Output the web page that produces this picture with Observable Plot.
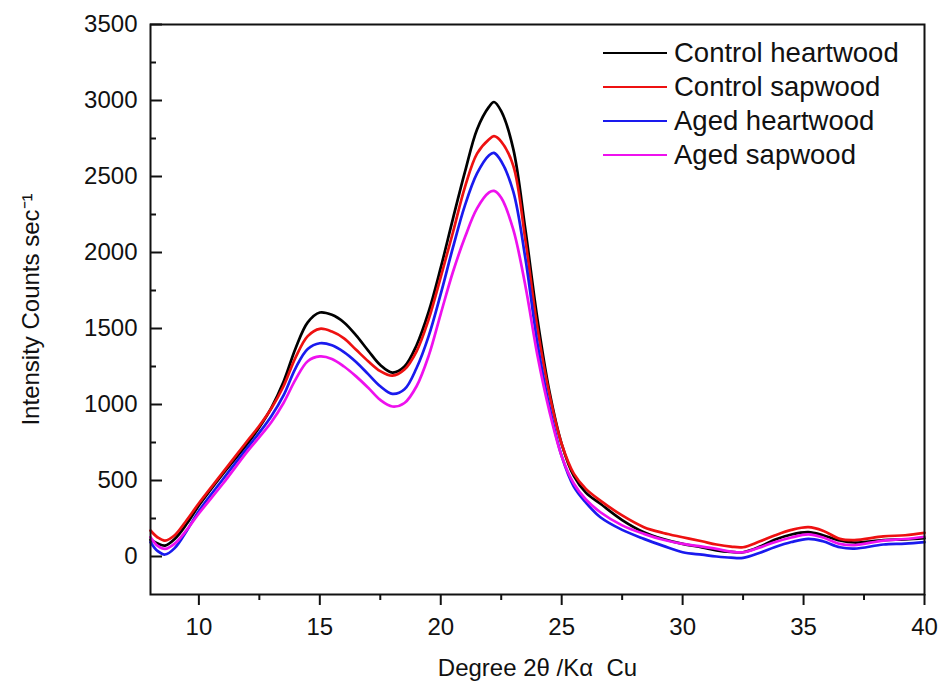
<!DOCTYPE html>
<html>
<head>
<meta charset="utf-8">
<script src="https://cdn.jsdelivr.net/npm/d3@7"></script>
<script src="https://cdn.jsdelivr.net/npm/@observablehq/plot@0.6"></script>
<style>
  body { margin: 0; background: #fff; font-family: "Liberation Sans", Arial, sans-serif; }
  #wrap { position: relative; width: 941px; height: 681px; }
  #legend { position: absolute; left: 603px; top: 36px; }
  .row { display: flex; align-items: center; height: 34px; }
  .sw { width: 64px; height: 0; border-top: 2.5px solid; margin-right: 7px; }
  .lab { font-size: 27.5px; color: #111; line-height: 34px; white-space: nowrap; }
</style>
</head>
<body>
<div id="wrap"><div id="legend"></div></div>
<script>
// ---- data ----
const twoTheta = [8, 8.3, 8.6, 9, 9.5, 10, 11, 12, 12.5, 13, 13.5, 14, 14.5, 15, 15.5, 16, 16.5, 17, 17.5, 18, 18.5, 19, 19.5, 20, 20.5, 21, 21.5, 22, 22.2, 22.5, 23, 23.5, 24, 24.5, 25, 25.5, 26, 26.6, 27.5, 28.4, 29.2, 30, 30.8, 31.4, 32, 32.5, 33.2, 33.8, 34.5, 35.2, 35.8, 36.5, 37.1, 38.3, 39.2, 40];

const controlHeartwood = [110, 85, 72, 115, 215, 335, 545, 740, 850, 980, 1150, 1370, 1540, 1605, 1590, 1540, 1455, 1355, 1260, 1210, 1250, 1390, 1610, 1900, 2220, 2530, 2810, 2960, 2990, 2930, 2680, 2150, 1560, 1080, 740, 530, 420, 347, 240, 160, 115, 83, 60, 40, 30, 28, 65, 110, 145, 160, 140, 105, 92, 108, 112, 120];

const controlSapwood = [171, 125, 105, 140, 240, 350, 555, 760, 860, 975, 1120, 1310, 1450, 1498, 1480, 1435, 1360, 1285, 1220, 1190, 1230, 1350, 1560, 1838, 2130, 2430, 2650, 2745, 2765, 2730, 2570, 2080, 1500, 1060, 740, 545, 445, 368, 270, 193, 155, 127, 100, 79, 65, 61, 100, 138, 175, 193, 170, 116, 108, 132, 140, 155];

const agedHeartwood = [94, 35, 13, 55, 170, 300, 510, 715, 815, 925, 1060, 1240, 1365, 1403, 1390, 1345, 1280, 1200, 1120, 1070, 1100, 1240, 1450, 1728, 2030, 2310, 2520, 2640, 2655, 2600, 2400, 1960, 1400, 980, 660, 460, 355, 258, 175, 116, 70, 28, 12, 0, -8, -9, 25, 61, 95, 116, 100, 61, 52, 79, 85, 95];

const agedSapwood = [127, 70, 50, 85, 175, 283, 480, 690, 785, 885, 1010, 1165, 1285, 1316, 1300, 1250, 1185, 1110, 1030, 987, 1010, 1120, 1320, 1597, 1870, 2100, 2290, 2395, 2405, 2360, 2150, 1780, 1320, 950, 660, 480, 375, 291, 205, 149, 110, 83, 65, 50, 32, 28, 60, 94, 125, 145, 125, 83, 75, 105, 115, 130];

const seriesNames = ["Control heartwood", "Control sapwood", "Aged heartwood", "Aged sapwood"];
const seriesColors = ["#000000", "#ee1111", "#1a1aee", "#ee11ee"];

const xMajorTicks = [10, 15, 20, 25, 30, 35, 40];
const xMinorTicks = [12.5, 17.5, 22.5, 27.5, 32.5, 37.5];
const yMajorTicks = [0, 500, 1000, 1500, 2000, 2500, 3000, 3500];
const yMinorTicks = [250, 750, 1250, 1750, 2250, 2750, 3250];

const xLabel = "Degree 2θ /Kα  Cu";
const yLabel = "Intensity Counts sec⁻¹";

// ---- build tidy table ----
const seriesValues = [controlHeartwood, controlSapwood, agedHeartwood, agedSapwood];
const rows = [];
seriesValues.forEach((vals, s) => {
  vals.forEach((v, i) => rows.push({series: seriesNames[s], x: twoTheta[i], y: v}));
});

// ---- layout ----
const W = 941, H = 681, ML = 150, MR = 17, MT = 24, MB = 87;
const plotW = W - ML - MR, plotH = H - MT - MB;

const plain = d => String(d);

const chart = Plot.plot({
  width: W,
  height: H,
  marginLeft: ML,
  marginRight: MR,
  marginTop: MT,
  marginBottom: MB,
  style: {fontFamily: "'Liberation Sans', Arial, sans-serif", fontSize: "24px", color: "#111", background: "#fff"},
  x: {domain: [8, 40]},
  y: {domain: [-250, 3500]},
  color: {domain: seriesNames, range: seriesColors},
  marks: [
    Plot.line(rows, {x: "x", y: "y", z: "series", stroke: "series", strokeWidth: 2.7, curve: "catmull-rom"}),
    Plot.frame({stroke: "#111", strokeWidth: 2}),
    // y axis ticks pointing inward from the left edge
    Plot.tickY(yMajorTicks, {y: d => d, insetRight: plotW - 12, stroke: "#111", strokeWidth: 2}),
    Plot.tickY(yMinorTicks, {y: d => d, insetRight: plotW - 6, stroke: "#111", strokeWidth: 2}),
    Plot.axisY(yMajorTicks, {anchor: "left", tickSize: 0, tickPadding: 13, fontSize: 24, tickFormat: plain, label: null, fill: "#111"}),
    // x axis ticks pointing outward below the bottom edge
    Plot.tickX(xMajorTicks, {x: d => d, insetTop: plotH, insetBottom: -11, stroke: "#111", strokeWidth: 2}),
    Plot.tickX(xMinorTicks, {x: d => d, insetTop: plotH, insetBottom: -6, stroke: "#111", strokeWidth: 2}),
    Plot.axisX(xMajorTicks, {anchor: "bottom", tickSize: 0, tickPadding: 23, fontSize: 24, tickFormat: plain, label: null, fill: "#111"}),
    // axis titles
    Plot.text([xLabel], {text: d => d, frameAnchor: "bottom", textAnchor: "middle", dy: 81, fontSize: 24, fill: "#111"}),
    Plot.text([yLabel], {text: d => d, frameAnchor: "left", textAnchor: "middle", dx: -119, rotate: -90, fontSize: 24, fill: "#111"})
  ]
});

const wrap = document.getElementById("wrap");
wrap.insertBefore(chart, wrap.firstChild);

// legend (inside the frame, top right)
const legend = document.getElementById("legend");
seriesNames.forEach((name, i) => {
  const row = document.createElement("div");
  row.className = "row";
  const sw = document.createElement("span");
  sw.className = "sw";
  sw.style.borderTopColor = seriesColors[i];
  const lab = document.createElement("span");
  lab.className = "lab";
  lab.textContent = name;
  row.appendChild(sw);
  row.appendChild(lab);
  legend.appendChild(row);
});
</script>
</body>
</html>
